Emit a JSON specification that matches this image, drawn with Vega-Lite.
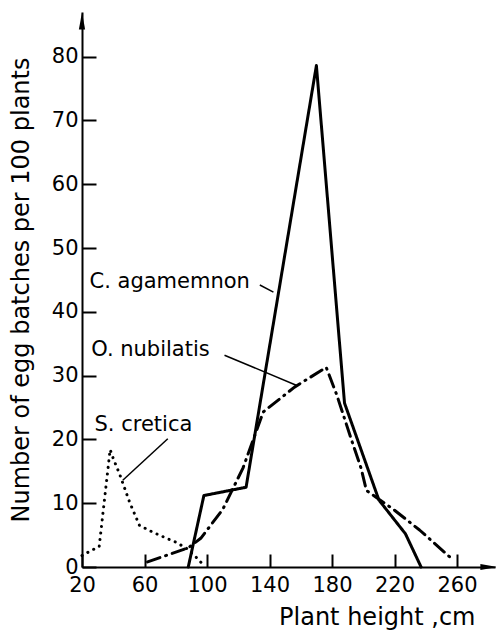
{
  "$schema": "https://vega.github.io/schema/vega-lite/v6.json",
  "autosize": "none",
  "padding": {"left": 82, "top": 12, "right": 1, "bottom": 65},
  "width": 413,
  "height": 555,
  "background": "white",
  "config": {
    "view": {"stroke": null},
    "font": "DejaVu Sans",
    "axis": {"grid": false, "domainColor": "black", "tickColor": "black", "labelColor": "black", "titleColor": "black", "titleFontWeight": "normal", "domainWidth": 2, "tickWidth": 2}
  },
  "datasets": {
    "series": [
      {"species": "C. agamemnon", "height": 88, "batches": 0},
      {"species": "C. agamemnon", "height": 98, "batches": 11.2},
      {"species": "C. agamemnon", "height": 125, "batches": 12.5},
      {"species": "C. agamemnon", "height": 170, "batches": 78.6},
      {"species": "C. agamemnon", "height": 188, "batches": 25.7},
      {"species": "C. agamemnon", "height": 210, "batches": 10.5},
      {"species": "C. agamemnon", "height": 227, "batches": 5.2},
      {"species": "C. agamemnon", "height": 237, "batches": 0},
      {"species": "O. nubilatis", "height": 62, "batches": 0.8},
      {"species": "O. nubilatis", "height": 88, "batches": 3},
      {"species": "O. nubilatis", "height": 96, "batches": 4.5},
      {"species": "O. nubilatis", "height": 110, "batches": 9},
      {"species": "O. nubilatis", "height": 123, "batches": 15.5},
      {"species": "O. nubilatis", "height": 136, "batches": 24.3},
      {"species": "O. nubilatis", "height": 156, "batches": 28.2},
      {"species": "O. nubilatis", "height": 176.3, "batches": 31.3},
      {"species": "O. nubilatis", "height": 183, "batches": 27},
      {"species": "O. nubilatis", "height": 192.5, "batches": 19.9},
      {"species": "O. nubilatis", "height": 198.7, "batches": 15.4},
      {"species": "O. nubilatis", "height": 202, "batches": 12},
      {"species": "O. nubilatis", "height": 220, "batches": 8.9},
      {"species": "O. nubilatis", "height": 236, "batches": 5.8},
      {"species": "O. nubilatis", "height": 258, "batches": 1},
      {"species": "S. cretica", "height": 20, "batches": 1.8},
      {"species": "S. cretica", "height": 26, "batches": 2.6},
      {"species": "S. cretica", "height": 31, "batches": 3.2},
      {"species": "S. cretica", "height": 38, "batches": 18.4},
      {"species": "S. cretica", "height": 40, "batches": 17},
      {"species": "S. cretica", "height": 44, "batches": 14.6},
      {"species": "S. cretica", "height": 50.4, "batches": 10.2},
      {"species": "S. cretica", "height": 56.8, "batches": 6.5},
      {"species": "S. cretica", "height": 61, "batches": 6},
      {"species": "S. cretica", "height": 65, "batches": 5.5},
      {"species": "S. cretica", "height": 75, "batches": 4.4},
      {"species": "S. cretica", "height": 80, "batches": 3.9},
      {"species": "S. cretica", "height": 87, "batches": 2.9},
      {"species": "S. cretica", "height": 92, "batches": 1.8},
      {"species": "S. cretica", "height": 97, "batches": 0.5}
    ],
    "labels": [
      {"species": "C. agamemnon", "tx": 24.8, "ty": 44.6, "lx": 133.8, "ly": 44.2, "lx2": 142.5, "ly2": 43.1},
      {"species": "O. nubilatis", "tx": 25.9, "ty": 34, "lx": 111.2, "ly": 33.2, "lx2": 157.1, "ly2": 28.5},
      {"species": "S. cretica", "tx": 28, "ty": 22.2, "lx": 74.9, "ly": 20.1, "lx2": 46.1, "ly2": 13.6}
    ],
    "arrows": [
      {"dir": "right", "height": 280.5, "batches": 0},
      {"dir": "up", "height": 20, "batches": 85.6}
    ]
  },
  "layer": [
    {
      "data": {"name": "series"},
      "mark": {"type": "line", "color": "black", "strokeCap": "round", "strokeJoin": "round"},
      "encoding": {
        "x": {"field": "height", "type": "quantitative", "scale": {"domain": [20, 284.3], "nice": false, "zero": false},
          "axis": {"orient": "bottom", "values": [20, 40, 60, 80, 100, 120, 140, 160, 180, 200, 220, 240, 260],
            "labelExpr": "datum.value % 40 === 20 ? datum.label : ''",
            "tickSize": {"condition": {"test": "datum.value % 40 === 20", "value": -13}, "value": -8},
            "labelFontSize": 21, "labelPadding": 20, "labelFlush": false,
            "title": "Plant height ,cm", "titleFontSize": 24, "titleAnchor": "end", "titleAlign": "right", "titleX": 393, "titlePadding": 10}},
        "y": {"field": "batches", "type": "quantitative", "scale": {"domain": [0, 87], "nice": false},
          "axis": {"orient": "left", "values": [0, 5, 10, 15, 20, 25, 30, 35, 40, 45, 50, 55, 60, 65, 70, 75, 80],
            "labelExpr": "datum.value % 10 === 0 ? datum.label : ''",
            "tickSize": {"condition": {"test": "datum.value % 10 === 0", "value": -14}, "value": -8},
            "labelFontSize": 21, "labelPadding": 18, "labelFlush": false,
            "title": "Number of egg batches per 100 plants", "titleFontSize": 24, "titlePadding": 18}},
        "detail": {"field": "species"},
        "strokeDash": {"field": "species", "type": "nominal", "legend": null,
          "scale": {"domain": ["C. agamemnon", "O. nubilatis", "S. cretica"], "range": [[1, 0], [13, 6, 1, 6], [0.1, 6.5]]}},
        "strokeWidth": {"field": "species", "type": "nominal", "legend": null,
          "scale": {"domain": ["C. agamemnon", "O. nubilatis", "S. cretica"], "range": [3, 3, 4]}}
      }
    },
    {
      "data": {"name": "labels"},
      "mark": {"type": "rule", "color": "black", "strokeWidth": 1.5},
      "encoding": {
        "x": {"field": "lx", "type": "quantitative"},
        "y": {"field": "ly", "type": "quantitative"},
        "x2": {"field": "lx2"},
        "y2": {"field": "ly2"}
      }
    },
    {
      "data": {"name": "labels"},
      "mark": {"type": "text", "align": "left", "baseline": "middle", "fontSize": 21, "color": "black"},
      "encoding": {
        "x": {"field": "tx", "type": "quantitative"},
        "y": {"field": "ty", "type": "quantitative"},
        "text": {"field": "species"}
      }
    },
    {
      "data": {"name": "arrows"},
      "mark": {"type": "point", "filled": true, "color": "black", "opacity": 1, "size": 300},
      "encoding": {
        "x": {"field": "height", "type": "quantitative"},
        "y": {"field": "batches", "type": "quantitative"},
        "shape": {"field": "dir", "type": "nominal", "legend": null,
          "scale": {"domain": ["right", "up"], "range": ["M -1 -0.36 L 1 0 L -1 0.36 Z", "M -0.36 1 L 0 -1 L 0.36 1 Z"]}}
      }
    }
  ]
}
